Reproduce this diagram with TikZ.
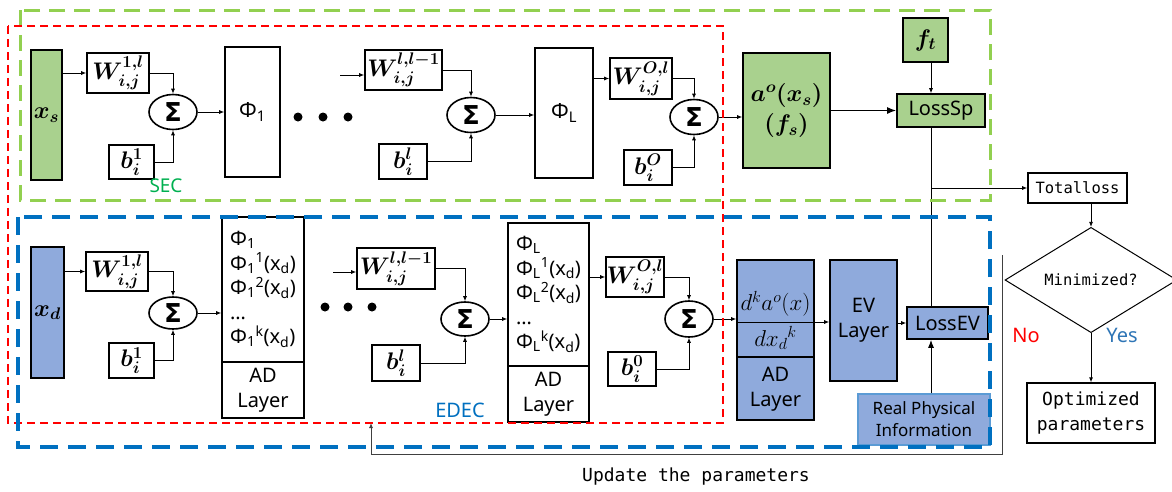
\RequirePackage{fix-cm}
\documentclass[tikz,border=0pt]{standalone}
\usepackage[no-math]{fontspec}
\usepackage{amsmath,bm}
\setmainfont{Noto Sans}
\newfontfamily\monof{DejaVu Sans Mono}
\newfontfamily\sigf{DejaVu Sans}
\usetikzlibrary{arrows.meta,shapes.geometric,calc}
\definecolor{gfill}{HTML}{A9D18E}
\definecolor{bfill}{HTML}{8FAADC}
\definecolor{gdash}{HTML}{92D050}
\definecolor{bdash}{HTML}{0070C0}
\definecolor{secg}{HTML}{00B050}
\definecolor{yesb}{HTML}{2E75B6}
\definecolor{rpib}{HTML}{5B9BD5}
\definecolor{lgrey}{HTML}{404040}
\tikzset{
 box/.style={draw, line width=1.6pt, inner sep=0pt, fill=white},
 mth/.style={font=\fontsize{24}{28}\selectfont},
 lbl/.style={font=\fontsize{20}{25}\selectfont},
 phif/.style={font=\fontsize{20}{24.5}\selectfont},
 sig/.style={ellipse, draw, line width=1.6pt, inner sep=0pt, fill=white, minimum width=48pt, minimum height=35pt, font=\sigf\bfseries\fontsize{26}{28}\selectfont},
 arr/.style={-{Latex[length=5pt,width=4pt]}, line width=0.8pt},
 con/.style={line width=0.8pt},
 mono/.style={font=\monof\fontsize{15.5}{18}\selectfont},
 bigmono/.style={font=\monof\fontsize{18}{25}\selectfont},
 dot/.style={circle, fill, inner sep=0pt, minimum size=9pt},
}
\begin{document}
\begin{tikzpicture}[x=1pt,y=-1pt]
\useasboundingbox[fill=white] (0,0) rectangle (1172,491);
\coordinate (colx) at (931,0);
% ---------------- top row (SEC)
\node[box, fill=gfill, mth, minimum width=31pt, minimum height=130pt] (xs) at (46.5,115) {$\bm{x_s}$};
\node[box, mth, minimum width=62pt, minimum height=40pt] (w1t) at (118,73) {$\bm{W^{1,l}_{i,j}}$};
\node[sig] (s1t) at (173,112) {Σ};
\node[box, mth, minimum width=45pt, minimum height=34pt] (b1t) at (131.5,162) {$\bm{b_i^1}$};
\node[box, lbl, font=\fontsize{21}{25}\selectfont, minimum width=55pt, minimum height=130pt] (p1t) at (252.5,112) {Φ\textsubscript{1}};
\node[dot] (d1) at (298,117) {};
\node[dot] (d2) at (323,117) {};
\node[dot] (d3) at (348,117) {};
\coordinate (in2t) at (340,75);
\node[box, mth, minimum width=77pt, minimum height=40pt] (wlt) at (403.5,70) {$\bm{W^{l,l-1}_{i,j}}$};
\node[sig] (s2t) at (471,115) {Σ};
\node[box, mth, minimum width=48pt, minimum height=35pt] (blt) at (403,161.5) {$\bm{b_i^l}$};
\node[box, lbl, font=\fontsize{21}{25}\selectfont, minimum width=58pt, minimum height=130pt] (pLt) at (564,113) {Φ\textsubscript{L}};
\node[box, mth, minimum width=62pt, minimum height=41pt] (wot) at (641,78.5) {$\bm{W^{O,l}_{i,j}}$};
\node[sig] (s3t) at (694,117) {Σ};
\node[box, mth, minimum width=48pt, minimum height=35pt] (bot) at (648,167.5) {$\bm{b_i^O}$};
\node[box, fill=gfill, minimum width=87pt, minimum height=115pt, align=center, font=\fontsize{24}{30}\selectfont] (ao) at (786.5,110.5) {$\bm{a^o(x_s)}$\\$\bm{(f_s)}$};
\node[box, fill=gfill, lbl, minimum width=88pt, minimum height=33pt] (losssp) at (941,110.5) {LossSp};
\node[box, fill=gfill, mth, minimum width=45pt, minimum height=44pt] (ft) at (925.5,40) {$\bm{f_t}$};
\node[text=secg, font=\fontsize{19}{20}\selectfont] (sec) at (166,186) {SEC};
\draw[arr] (xs.east |- w1t) -- (w1t.west);
\draw[arr] (w1t.east) -| (s1t.north);
\draw[arr] (b1t.east) -| (s1t.south);
\draw[arr] (s1t.east) -- (s1t -| p1t.west);
\draw[arr] (in2t) -- (in2t -| wlt.west);
\draw[arr] (wlt.east) -| (s2t.north);
\draw[arr] (blt.east) -| (s2t.south);
\draw[arr] (s2t.east) -- (s2t -| pLt.west);
\draw[arr] (pLt.east |- wot) -- (wot.west);
\draw[arr] (wot.east) -| (s3t.north);
\draw[arr] (bot.east) -| (s3t.south);
\draw[arr] (s3t.east) -- (s3t -| ao.west);
\draw[-{Latex[length=9pt,width=7pt]}, line width=1.5pt] (ao.east |- losssp) -- (losssp.west);
\draw[arr] (ft.south -| colx) -- (losssp.north -| colx);
% ---------------- bottom row (EDEC)
\node[box, fill=bfill, mth, minimum width=33pt, minimum height=131pt] (xd) at (47.5,312.5) {$\bm{x_d}$};
\node[box, mth, minimum width=62pt, minimum height=39pt] (w1b) at (117,271.5) {$\bm{W^{1,l}_{i,j}}$};
\node[sig, minimum height=32pt] (s1b) at (173,313) {Σ};
\node[box, mth, minimum width=45pt, minimum height=35pt] (b1b) at (131.5,360.5) {$\bm{b_i^1}$};
\node[box, phif, align=left, minimum width=82pt, minimum height=145pt] (p1bu) at (263,289.5) {Φ\textsubscript{1}\\Φ\textsubscript{1}\textsuperscript{1}(x\textsubscript{d})\\Φ\textsubscript{1}\textsuperscript{2}(x\textsubscript{d})\\…\\Φ\textsubscript{1}\textsuperscript{k}(x\textsubscript{d})};
\node[box, lbl, align=center, minimum width=82pt, minimum height=56pt] (p1bl) at (263,390) {AD\\Layer};
\node[dot] (d4) at (325,307) {};
\node[dot] (d5) at (348,307) {};
\node[dot] (d6) at (372,307) {};
\coordinate (in2b) at (333,272);
\node[box, mth, minimum width=78pt, minimum height=41pt] (wlb) at (396,268.5) {$\bm{W^{l,l-1}_{i,j}}$};
\node[sig, minimum height=34pt] (s2b) at (465,319) {Σ};
\node[box, mth, minimum width=48pt, minimum height=36pt] (blb) at (396,363) {$\bm{b_i^l}$};
\node[box, phif, align=left, minimum width=81pt, minimum height=143pt] (pLbu) at (548.5,294.5) {Φ\textsubscript{L}\\Φ\textsubscript{L}\textsuperscript{1}(x\textsubscript{d})\\Φ\textsubscript{L}\textsuperscript{2}(x\textsubscript{d})\\…\\Φ\textsubscript{L}\textsuperscript{k}(x\textsubscript{d})};
\node[box, lbl, align=center, minimum width=81pt, minimum height=56pt] (pLbl) at (548.5,394) {AD\\Layer};
\node[box, mth, minimum width=58pt, minimum height=40pt] (wob) at (635,277) {$\bm{W^{O,l}_{i,j}}$};
\node[sig, minimum height=36pt] (s3b) at (689,319) {Σ};
\node[box, mth, minimum width=48pt, minimum height=34pt] (b0b) at (632,369) {$\bm{b_i^0}$};
\node[text=bdash, font=\fontsize{20}{20}\selectfont] (edec) at (460,410) {EDEC};
\node[box, fill=bfill, minimum width=77pt, minimum height=160pt] (dk) at (775.5,340) {};
\coordinate (fl) at (0,322);
\coordinate (sepl) at (0,357);
\node[font=\fontsize{23}{26}\selectfont] (num) at (775.5,304) {$d^k a^o(x)$};
\node[font=\fontsize{23}{26}\selectfont] (den) at (775.5,338) {$dx_d{}^k$};
\node[lbl, align=center] (dkad) at (775.5,389) {AD\\Layer};
\draw[line width=1.6pt] (dk.west |- sepl) -- (dk.east |- sepl);
\node[box, fill=bfill, lbl, align=center, minimum width=67pt, minimum height=121pt] (ev) at (863.5,320.5) {EV\\Layer};
\node[box, fill=bfill, lbl, minimum width=81pt, minimum height=32pt] (lossev) at (947.5,323) {LossEV};
\node[draw=rpib, line width=1.2pt, fill=bfill, inner sep=0pt, align=center, minimum width=132pt, minimum height=51pt, font=\fontsize{17}{22}\selectfont] (rpi) at (924,419.5) {Real Physical\\Information};
\draw[arr] (xd.east |- w1b) -- (w1b.west);
\draw[arr] (w1b.east) -| (s1b.north);
\draw[arr] (b1b.east) -| (s1b.south);
\draw[arr] (s1b.east) -- (s1b -| p1bu.west);
\draw[arr] (in2b) -- (in2b -| wlb.west);
\draw[arr] (wlb.east) -| (s2b.north);
\draw[arr] (blb.east) -| (s2b.south);
\draw[arr] (s2b.east) -- (s2b -| pLbu.west);
\draw[arr] (pLbu.east |- wob) -- (wob.west);
\draw[arr] (wob.east) -| (s3b.north);
\draw[arr] (b0b.east) -| (s3b.south);
\draw[arr] (s3b.east) -- (s3b -| dk.west);
\draw[arr] (dk.west |- fl) -- (ev.west |- fl);
\draw[arr] (ev.east |- lossev) -- (lossev.west);
\draw[-{Latex[length=8pt,width=6pt]}, line width=1pt] (rpi.north -| colx) -- (lossev.south -| colx);
\draw[con] (losssp.south -| colx) -- (lossev.north -| colx);
% ---------------- right side
\node[box, mono, minimum width=99pt, minimum height=30pt] (total) at (1077.5,188) {Totalloss};
\node[diamond, draw, line width=1pt, inner sep=0pt, minimum width=172pt, minimum height=62pt, mono] (dia) at (1091,280) {Minimized?};
\node[draw, line width=1.2pt, bigmono, align=center, minimum width=128pt, minimum height=60pt] (opt) at (1091,413) {Optimized\\parameters};
\node[text=red, lbl] (no) at (1026,335) {No};
\node[text=yesb, lbl] (yes) at (1122,335) {Yes};
\node[bigmono] (updl) at (696,477) {Update the parameters};
\draw[arr] (colx |- total) -- (total.west);
\draw[arr] (total.south -| dia.north) -- (dia.north);
\draw[arr, line width=1pt] (dia.south) -- (opt.north);
\coordinate (nl1) at (1002,255);
\coordinate (nl2) at (1002,454);
\coordinate (nl3) at (371,454);
\coordinate (updtip) at (371,423);
\draw[arr, draw=lgrey] (nl1) -- (nl2) -- (nl3) -- (updtip);
% ---------------- frames
\draw[gdash, line width=3pt, dash pattern=on 16pt off 9pt] (20,10) rectangle (990,200);
\draw[red, line width=1.8pt, dash pattern=on 8pt off 5pt] (8,26) rectangle (723,423);
\draw[bdash, line width=3.5pt, dash pattern=on 18pt off 10pt] (18,217) rectangle (990,447);
\end{tikzpicture}
\end{document}
